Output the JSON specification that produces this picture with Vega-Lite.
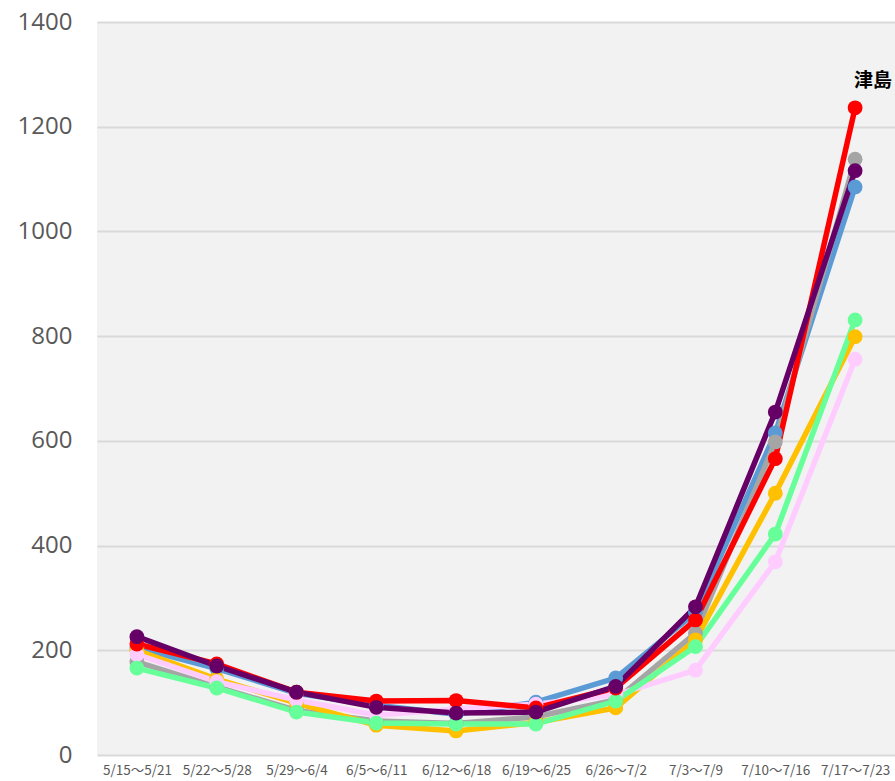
{
  "$schema": "https://vega.github.io/schema/vega-lite/v6.json",
  "width": 798,
  "height": 733,
  "autosize": {"type": "none"},
  "padding": {"left": 97, "top": 22, "right": 0, "bottom": 26},
  "background": "white",
  "config": {"view": {"fill": "#f2f2f2", "stroke": null}},
  "data": {"values": [
    {"week": "5/15〜5/21", "series": "系列B", "value": 205},
    {"week": "5/22〜5/28", "series": "系列B", "value": 165},
    {"week": "5/29〜6/4", "series": "系列B", "value": 118},
    {"week": "6/5〜6/11", "series": "系列B", "value": 95},
    {"week": "6/12〜6/18", "series": "系列B", "value": 78},
    {"week": "6/19〜6/25", "series": "系列B", "value": 101},
    {"week": "6/26〜7/2", "series": "系列B", "value": 147},
    {"week": "7/3〜7/9", "series": "系列B", "value": 272},
    {"week": "7/10〜7/16", "series": "系列B", "value": 615},
    {"week": "7/17〜7/23", "series": "系列B", "value": 1085},
    {"week": "5/15〜5/21", "series": "系列C", "value": 178},
    {"week": "5/22〜5/28", "series": "系列C", "value": 130},
    {"week": "5/29〜6/4", "series": "系列C", "value": 85},
    {"week": "6/5〜6/11", "series": "系列C", "value": 65},
    {"week": "6/12〜6/18", "series": "系列C", "value": 60},
    {"week": "6/19〜6/25", "series": "系列C", "value": 73},
    {"week": "6/26〜7/2", "series": "系列C", "value": 105},
    {"week": "7/3〜7/9", "series": "系列C", "value": 233},
    {"week": "7/10〜7/16", "series": "系列C", "value": 598},
    {"week": "7/17〜7/23", "series": "系列C", "value": 1138},
    {"week": "5/15〜5/21", "series": "系列D", "value": 200},
    {"week": "5/22〜5/28", "series": "系列D", "value": 145},
    {"week": "5/29〜6/4", "series": "系列D", "value": 99},
    {"week": "6/5〜6/11", "series": "系列D", "value": 57},
    {"week": "6/12〜6/18", "series": "系列D", "value": 46},
    {"week": "6/19〜6/25", "series": "系列D", "value": 62},
    {"week": "6/26〜7/2", "series": "系列D", "value": 90},
    {"week": "7/3〜7/9", "series": "系列D", "value": 220},
    {"week": "7/10〜7/16", "series": "系列D", "value": 500},
    {"week": "7/17〜7/23", "series": "系列D", "value": 799},
    {"week": "5/15〜5/21", "series": "系列E", "value": 192},
    {"week": "5/22〜5/28", "series": "系列E", "value": 140},
    {"week": "5/29〜6/4", "series": "系列E", "value": 105},
    {"week": "6/5〜6/11", "series": "系列E", "value": 76},
    {"week": "6/12〜6/18", "series": "系列E", "value": 88},
    {"week": "6/19〜6/25", "series": "系列E", "value": 97},
    {"week": "6/26〜7/2", "series": "系列E", "value": 115},
    {"week": "7/3〜7/9", "series": "系列E", "value": 162},
    {"week": "7/10〜7/16", "series": "系列E", "value": 369},
    {"week": "7/17〜7/23", "series": "系列E", "value": 756},
    {"week": "5/15〜5/21", "series": "系列F", "value": 166},
    {"week": "5/22〜5/28", "series": "系列F", "value": 128},
    {"week": "5/29〜6/4", "series": "系列F", "value": 82},
    {"week": "6/5〜6/11", "series": "系列F", "value": 61},
    {"week": "6/12〜6/18", "series": "系列F", "value": 59},
    {"week": "6/19〜6/25", "series": "系列F", "value": 59},
    {"week": "6/26〜7/2", "series": "系列F", "value": 103},
    {"week": "7/3〜7/9", "series": "系列F", "value": 207},
    {"week": "7/10〜7/16", "series": "系列F", "value": 422},
    {"week": "7/17〜7/23", "series": "系列F", "value": 831},
    {"week": "5/15〜5/21", "series": "津島", "value": 212},
    {"week": "5/22〜5/28", "series": "津島", "value": 174},
    {"week": "5/29〜6/4", "series": "津島", "value": 120},
    {"week": "6/5〜6/11", "series": "津島", "value": 103},
    {"week": "6/12〜6/18", "series": "津島", "value": 104},
    {"week": "6/19〜6/25", "series": "津島", "value": 90},
    {"week": "6/26〜7/2", "series": "津島", "value": 128},
    {"week": "7/3〜7/9", "series": "津島", "value": 258},
    {"week": "7/10〜7/16", "series": "津島", "value": 566},
    {"week": "7/17〜7/23", "series": "津島", "value": 1236},
    {"week": "5/15〜5/21", "series": "系列G", "value": 226},
    {"week": "5/22〜5/28", "series": "系列G", "value": 170},
    {"week": "5/29〜6/4", "series": "系列G", "value": 120},
    {"week": "6/5〜6/11", "series": "系列G", "value": 91},
    {"week": "6/12〜6/18", "series": "系列G", "value": 80},
    {"week": "6/19〜6/25", "series": "系列G", "value": 82},
    {"week": "6/26〜7/2", "series": "系列G", "value": 131},
    {"week": "7/3〜7/9", "series": "系列G", "value": 283},
    {"week": "7/10〜7/16", "series": "系列G", "value": 655},
    {"week": "7/17〜7/23", "series": "系列G", "value": 1116}
  ]},
  "encoding": {
    "x": {
      "field": "week", "type": "nominal", "sort": null,
      "axis": {
        "title": null, "labelAngle": 0, "ticks": false, "domain": false, "grid": false,
        "labelFont": "Noto Sans CJK JP", "labelFontSize": 13.5, "labelColor": "#595959",
        "labelPadding": 8
      }
    },
    "y": {
      "field": "value", "type": "quantitative",
      "scale": {"domain": [0, 1400], "nice": false},
      "axis": {
        "title": null, "values": [0, 200, 400, 600, 800, 1000, 1200, 1400], "format": "d",
        "ticks": false, "domain": false, "gridColor": "#d9d9d9", "gridWidth": 2,
        "labelFont": "Open Sans", "labelFontSize": 24, "labelColor": "#595959",
        "labelPadding": 25
      }
    }
  },
  "layer": [
    {
      "mark": {"type": "line", "strokeWidth": 5.5},
      "encoding": {
        "color": {
          "field": "series", "type": "nominal", "legend": null,
          "scale": {
            "domain": ["系列B", "系列C", "系列D", "系列E", "系列F", "津島", "系列G"],
            "range": ["#5b9bd5", "#a5a5a5", "#ffc000", "#ffccff", "#66ff99", "#ff0000", "#660066"]
          }
        }
      }
    },
    {
      "mark": {"type": "circle", "size": 220, "opacity": 1},
      "encoding": {
        "color": {"field": "series", "type": "nominal", "legend": null}
      }
    },
    {
      "transform": [{"filter": "datum.series === '津島' && datum.week === '7/17〜7/23'"}],
      "mark": {"type": "text", "dy": -27, "dx": -1, "align": "left", "font": "Noto Sans CJK JP", "fontSize": 19, "fontWeight": "bold", "color": "black"},
      "encoding": {"text": {"field": "series"}}
    }
  ]
}
